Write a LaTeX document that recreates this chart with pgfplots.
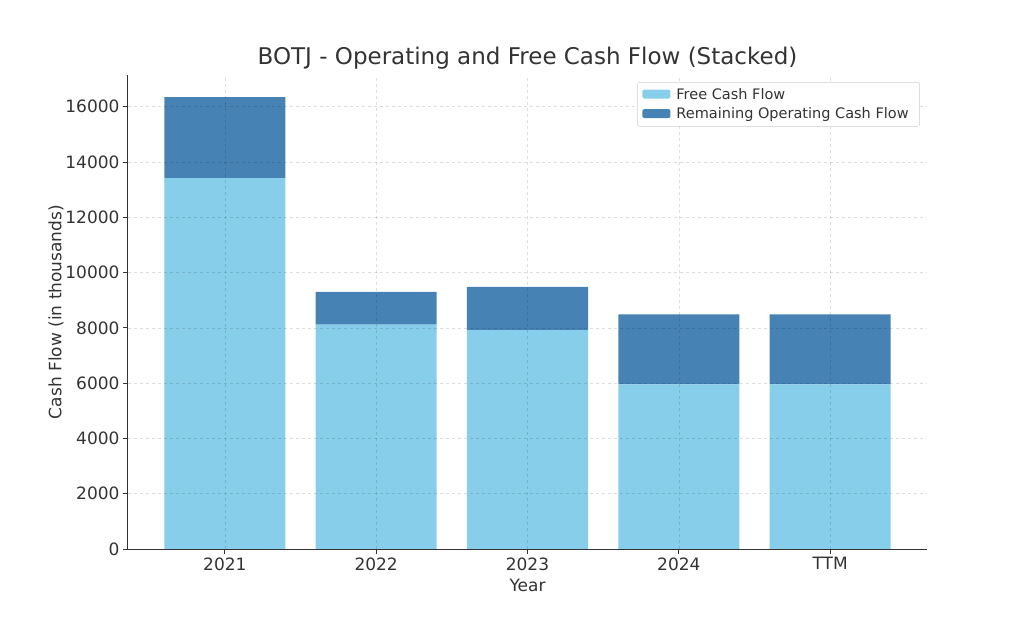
\documentclass[border=0pt]{standalone}
\usepackage{fontspec}
\setmainfont{DejaVu Sans}
\usepackage{pgfplots}
\pgfplotsset{compat=1.18}
\definecolor{fcf}{HTML}{87CEEB}
\definecolor{ocf}{HTML}{4682B4}
\definecolor{txt}{HTML}{333333}
\begin{document}
\begin{tikzpicture}
\begin{axis}[
  at={(0,0)}, anchor=south west,
  scale only axis, width=799pt, height=474pt,
  ybar stacked, bar width=0.8,
  xmin=-0.64, xmax=4.64, ymin=0, ymax=17150,
  xtick={0,1,2,3,4},
  xticklabels={2021,2022,2023,2024,TTM},
  ytick={0,2000,...,16000},
  scaled y ticks=false,
  /pgf/number format/1000 sep={},
  /pgf/number format/assume math mode=true,
  axis x line*=bottom, axis y line*=left,
  axis line style={black!80, line width=1pt, -},
  tick style={black!80, line width=0.9pt},
  tick align=outside, major tick length=5pt,
  ticklabel style={font=\fontsize{17}{19}\selectfont, text=txt},
  grid=major,
  grid style={dashed, black, opacity=0.13, line width=0.6pt},
  axis on top,
  title={BOTJ - Operating and Free Cash Flow (Stacked)},
  title style={font=\fontsize{23}{26}\selectfont, text=txt, yshift=-4pt},
  xlabel={Year}, ylabel={Cash Flow (in thousands)},
  label style={font=\fontsize{17}{19}\selectfont, text=txt},
  xlabel style={yshift=-2pt},
  ylabel style={yshift=-5pt},
  legend style={at={(0.991,0.985)}, anchor=north east,
    font=\fontsize{14.5}{17}\selectfont, text=txt,
    draw=black!20, rounded corners=2pt, inner xsep=5pt, inner ysep=4pt,
    row sep=3pt},
  legend cell align=left,
  legend image code/.code={\fill[#1] (0pt,-4pt) rectangle (28pt,5pt);},
  legend style={nodes={inner xsep=6pt}},
]
\addplot[fill=fcf, draw=none] coordinates {(0,13420) (1,8120) (2,7920) (3,5960) (4,5960)};
\addplot[fill=ocf, draw=none] coordinates {(0,2930) (1,1180) (2,1560) (3,2530) (4,2530)};
\legend{Free Cash Flow, Remaining Operating Cash Flow}
\end{axis}
\useasboundingbox (-128pt,-69pt) rectangle (902pt,549pt);
\end{tikzpicture}
\end{document}
